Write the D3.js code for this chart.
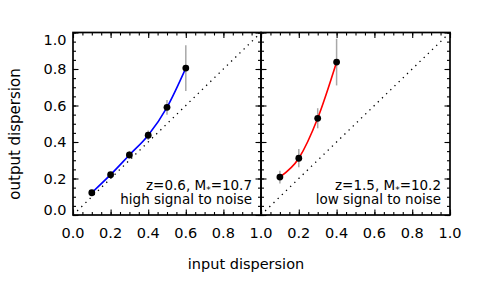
<!DOCTYPE html>
<html><head><meta charset="utf-8">
<script src="https://cdn.jsdelivr.net/npm/d3@7"></script>
<style>body{margin:0;background:#fff}svg{display:block}</style></head>
<body>
<svg id="c" width="491" height="281"></svg>
<script>
// ---- data ----
const inputLeft   = [0.1, 0.2, 0.3, 0.4, 0.5, 0.6];
const outputLeft  = [0.122, 0.221, 0.329, 0.437, 0.590, 0.805];
const errLeft     = [0.015, 0.012, 0.022, 0.026, 0.040, 0.125];
const inputRight  = [0.1, 0.2, 0.3, 0.4];
const outputRight = [0.208, 0.311, 0.530, 0.838];
const errRight    = [0.035, 0.050, 0.055, 0.128];
const xTickValues = [0.0, 0.2, 0.4, 0.6, 0.8, 1.0];
const yTickValues = [0.0, 0.2, 0.4, 0.6, 0.8, 1.0];
const oneToOne    = [0, 1];
const annotLeft   = ["z=0.6, M", "*", "=10.7", "high signal to noise"];
const annotRight  = ["z=1.5, M", "*", "=10.2", "low signal to noise"];
const xTitle = "input dispersion";
const yTitle = "output dispersion";

// ---- layout ----
const svg = d3.select("#c");
const plotTop = 32.5, plotBottom = 215;
const font = "DejaVu Sans, sans-serif";
const y = d3.scaleLinear().domain([0, 1]).range([plotBottom, plotTop]);
const panels = [
  {x0: 73, x1: 261, xs: inputLeft, ys: outputLeft, es: errLeft, color: "#0000ff", annot: annotLeft, ax: 252},
  {x0: 261, x1: 450, xs: inputRight, ys: outputRight, es: errRight, color: "#ff0000", annot: annotRight, ax: 441}
];
const minor = d3.range(0, 1.0001, 0.05);

panels.forEach((p, i) => {
  const x = d3.scaleLinear().domain([0, 1]).range([p.x0, p.x1]);
  const g = svg.append("g");
  // 1:1 dotted line
  g.append("line")
    .attr("x1", x(oneToOne[0])).attr("y1", y(oneToOne[0]))
    .attr("x2", x(oneToOne[1])).attr("y2", y(oneToOne[1]))
    .attr("stroke", "#000").attr("stroke-width", 1.3)
    .attr("stroke-dasharray", "1.3,4.5");
  // error bars
  g.selectAll(".eb").data(p.xs).enter().append("line")
    .attr("x1", d => x(d)).attr("x2", d => x(d))
    .attr("y1", (d, j) => y(p.ys[j] - p.es[j]))
    .attr("y2", (d, j) => y(p.ys[j] + p.es[j]))
    .attr("stroke", "#a8a8a8").attr("stroke-width", 1.5);
  // line
  const line = d3.line().x(d => x(d[0])).y(d => y(d[1])).curve(d3.curveMonotoneX);
  g.append("path").datum(p.xs.map((d, j) => [d, p.ys[j]]))
    .attr("d", line).attr("fill", "none")
    .attr("stroke", p.color).attr("stroke-width", 1.6);
  // markers
  g.selectAll(".pt").data(p.xs).enter().append("circle")
    .attr("cx", d => x(d)).attr("cy", (d, j) => y(p.ys[j]))
    .attr("r", 3.4).attr("fill", "#000");

  // ticks (inward)
  const mk = (axisFn, scale, tx, ty, size, vals) => {
    const a = axisFn(scale).tickValues(vals).tickSize(-size).tickFormat("");
    const ag = g.append("g").attr("transform", `translate(${tx},${ty})`).call(a);
    ag.select(".domain").remove();
    ag.selectAll("line").attr("stroke", "#000").attr("stroke-width", 1.1);
  };
  [[minor, 3], [xTickValues, 5.5]].forEach(([vals, s]) => {
    mk(d3.axisBottom, x, 0, plotBottom, s, vals);
    mk(d3.axisTop, x, 0, plotTop, s, vals);
    mk(d3.axisLeft, y, p.x0, 0, s, vals);
    mk(d3.axisRight, y, p.x1, 0, s, vals);
  });

  // frame
  g.append("rect").attr("x", p.x0).attr("y", plotTop)
    .attr("width", p.x1 - p.x0).attr("height", plotBottom - plotTop)
    .attr("fill", "none").attr("stroke", "#000").attr("stroke-width", 1.7);

  // x tick labels
  g.selectAll(".xl").data(xTickValues.filter(v => !(i === 1 && v === 0))).enter()
    .append("text")
    .attr("x", d => x(d)).attr("y", 238)
    .attr("text-anchor", "middle")
    .attr("font-family", font).attr("font-size", 14.5)
    .text(d => d.toFixed(1));

  // annotation
  const t = g.append("text").attr("font-family", font).attr("font-size", 13.5)
    .attr("text-anchor", "end").attr("fill", "#000");
  const l1 = t.append("tspan").attr("x", p.ax).attr("y", 189.5);
  l1.append("tspan").text(p.annot[0]);
  l1.append("tspan").attr("font-size", 9).attr("dy", 3).text(p.annot[1]);
  l1.append("tspan").attr("dy", -3).text(p.annot[2]);
  t.append("tspan").attr("x", p.ax).attr("y", 203.5).text(p.annot[3]);
});

// y tick labels
svg.selectAll(".yl").data(yTickValues).enter().append("text")
  .attr("x", 66.5)
  .attr("y", d => y(d) + (d === 1 ? 7 : d === 0 ? -5 : 0))
  .attr("dy", "0.36em")
  .attr("text-anchor", "end")
  .attr("font-family", font).attr("font-size", 14.5)
  .text(d => d.toFixed(1));

// axis titles
svg.append("text").attr("x", 246).attr("y", 269)
  .attr("text-anchor", "middle").attr("font-family", font).attr("font-size", 14.5)
  .text(xTitle);
svg.append("text").attr("transform", "translate(20,134) rotate(-90)")
  .attr("text-anchor", "middle").attr("font-family", font).attr("font-size", 15)
  .text(yTitle);
</script>
</body></html>
